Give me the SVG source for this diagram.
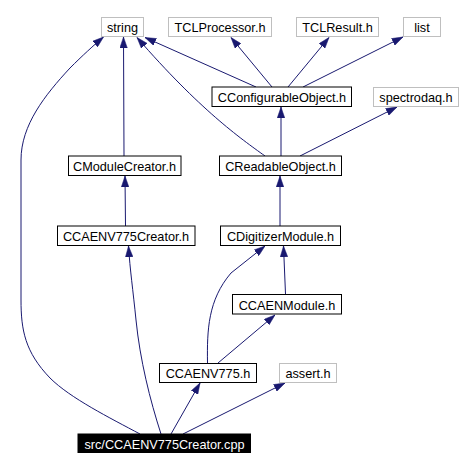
<svg xmlns="http://www.w3.org/2000/svg" width="464" height="470" viewBox="0 0 464 470">
<style>
.e{fill:none;stroke:#191970;stroke-width:1;marker-end:url(#ah)}
.n rect{fill:#fff;stroke:#000;stroke-width:1}
.g rect{fill:#fff;stroke:#bfbfbf;stroke-width:1}
text{font-family:"Liberation Sans",Arial,sans-serif;font-size:12.7px;fill:#000;text-anchor:middle}
#n_src rect{fill:#000;stroke:#000}
#n_src text{fill:#fff}
</style>
<defs>
<marker id="ah" markerUnits="userSpaceOnUse" markerWidth="11" markerHeight="8" refX="11" refY="3.75" orient="auto" viewBox="0 0 11 7.5">
<path d="M0,0 L11,3.75 L0,7.5 z" fill="#191970" stroke="#191970" stroke-width="0.5"/>
</marker>
</defs>
<rect width="464" height="470" fill="#fff"/>
<g id="edges">
<path class="e" d="M140,434 C110,418 70,398 50,378 C25,352 21,330 21,300 L21,160 C21,125 45,95 70,68 C82,56 94,45 103.5,37"/>
<path class="e" d="M124,156 L123.5,37"/>
<path class="e" d="M256,87 L145,37.5"/>
<path class="e" d="M265,156 C240,138 200,110 137,37.5"/>
<path class="e" d="M272,87 L231,37.5"/>
<path class="e" d="M288,87 L329,37.5"/>
<path class="e" d="M303,87 L403,37"/>
<path class="e" d="M281,156 L281,107"/>
<path class="e" d="M300,156 L397,107"/>
<path class="e" d="M125.5,226 L125,176"/>
<path class="e" d="M280,226 L280,176"/>
<path class="e" d="M161,434 C150,400 140,360 136,320 C133,290 130,270 128.5,246"/>
<path class="e" d="M285.5,294 L283.5,246"/>
<path class="e" d="M207.5,363 C207,330 208,300 231,273 L265,246"/>
<path class="e" d="M218,363 L275,315"/>
<path class="e" d="M171,434 L200,383"/>
<path class="e" d="M183,434 L285,383"/>
</g>
<g id="n_string" class="g"><rect x="101.5" y="17.5" width="42" height="19"/><text x="122.5" y="32">string</text></g>
<g id="n_tclproc" class="g"><rect x="168.5" y="17.5" width="103" height="19"/><text x="220" y="32">TCLProcessor.h</text></g>
<g id="n_tclres" class="g"><rect x="296.5" y="17.5" width="82" height="19"/><text x="337.5" y="32">TCLResult.h</text></g>
<g id="n_list" class="g"><rect x="403.5" y="17.5" width="37" height="19"/><text x="422" y="32">list</text></g>
<g id="n_cconf" class="n"><rect x="212" y="87" width="139.5" height="19.5"/><text x="282" y="102">CConfigurableObject.h</text></g>
<g id="n_spectrodaq" class="g"><rect x="373.5" y="87.5" width="85" height="19"/><text x="416" y="102">spectrodaq.h</text></g>
<g id="n_cmodcreator" class="n"><rect x="68.5" y="156" width="112.5" height="19.5"/><text x="124.5" y="171">CModuleCreator.h</text></g>
<g id="n_creadable" class="n"><rect x="219.5" y="156" width="122" height="19.5"/><text x="280.5" y="171">CReadableObject.h</text></g>
<g id="n_ccaenv775creator" class="n"><rect x="57.5" y="226" width="137.5" height="19.5"/><text x="126" y="241">CCAENV775Creator.h</text></g>
<g id="n_cdigitizer" class="n"><rect x="220.5" y="226" width="120" height="19.5"/><text x="280.5" y="241">CDigitizerModule.h</text></g>
<g id="n_ccaenmodule" class="n"><rect x="232.5" y="294.5" width="109" height="19.5"/><text x="287" y="309.5">CCAENModule.h</text></g>
<g id="n_ccaenv775" class="n"><rect x="159.5" y="363.5" width="97" height="19"/><text x="208" y="378">CCAENV775.h</text></g>
<g id="n_assert" class="g"><rect x="279.5" y="363.5" width="57" height="19"/><text x="308" y="378">assert.h</text></g>
<g id="n_src"><rect x="78" y="434" width="172.5" height="18.5"/><text x="164.5" y="449">src/CCAENV775Creator.cpp</text></g>
</svg>
